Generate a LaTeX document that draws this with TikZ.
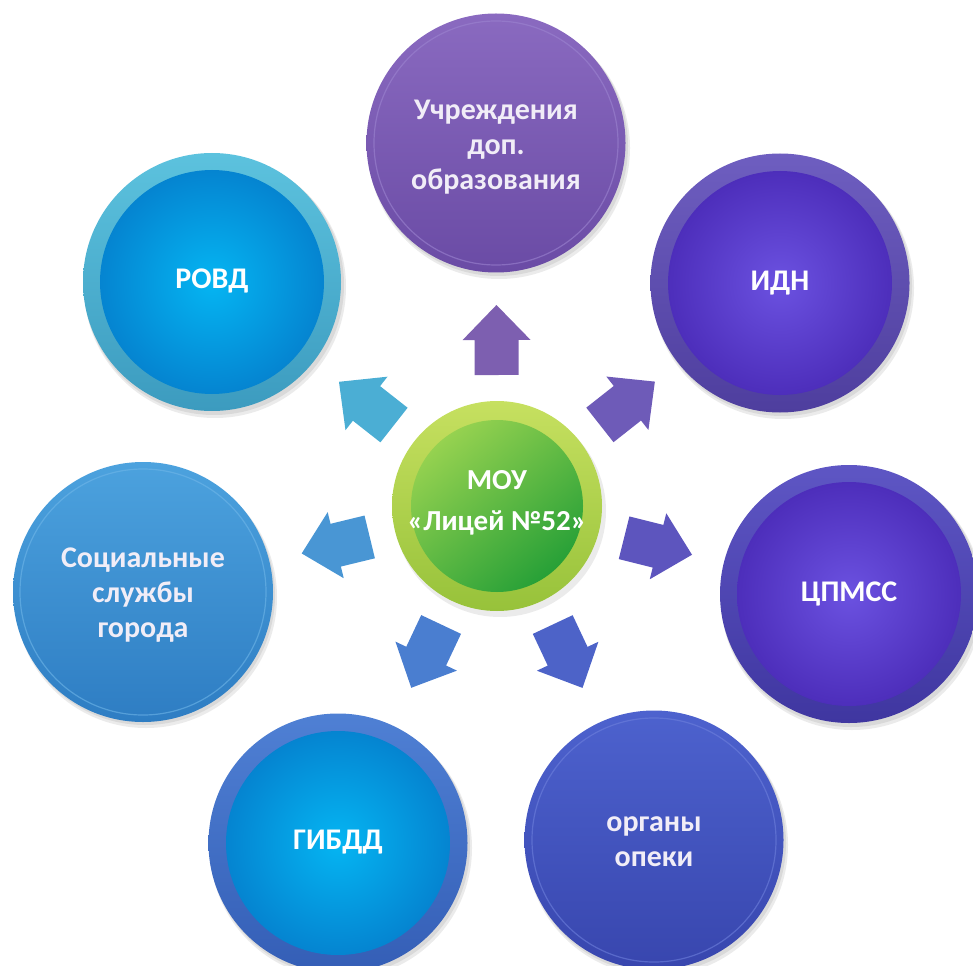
\documentclass[tikz,border=0pt]{standalone}
\usepackage{fontspec}
\setmainfont{Carlito}
\usetikzlibrary{calc}
\definecolor{softtext}{HTML}{F1EDF7}
\definecolor{uchrA}{HTML}{8A6AC0}\definecolor{uchrB}{HTML}{6A4BA5}\definecolor{uchrL}{HTML}{9C84D0}
\definecolor{rovdA}{HTML}{5CC2DE}\definecolor{rovdB}{HTML}{3C9BBF}
\definecolor{idnA}{HTML}{6E5EC0}\definecolor{idnB}{HTML}{4E3E9E}
\definecolor{socA}{HTML}{4CA2DE}\definecolor{socB}{HTML}{2E7DC3}\definecolor{socL}{HTML}{6FB6E8}
\definecolor{cpmA}{HTML}{5E56C4}\definecolor{cpmB}{HTML}{3F36A0}
\definecolor{gibA}{HTML}{4F80D4}\definecolor{gibB}{HTML}{345EB6}
\definecolor{opeA}{HTML}{4D62CE}\definecolor{opeB}{HTML}{3846AE}\definecolor{opeL}{HTML}{6E80DC}
\definecolor{cenA}{HTML}{C6E060}\definecolor{cenB}{HTML}{97C23A}
\definecolor{cenC}{HTML}{96D250}\definecolor{cenD}{HTML}{27A037}
\definecolor{arUp}{HTML}{7D5FB0}\definecolor{arRovd}{HTML}{4BAED4}\definecolor{arIdn}{HTML}{6E5BB8}
\definecolor{arSoc}{HTML}{4996D4}\definecolor{arCpm}{HTML}{5D55BE}\definecolor{arGib}{HTML}{4A7ED0}
\definecolor{arOpe}{HTML}{4D63C8}
\pgfdeclareradialshading{blueball}{\pgfpoint{0bp}{0bp}}{rgb(0bp)=(0.02,0.71,0.95); rgb(34bp)=(0.02,0.45,0.77); rgb(50bp)=(0.02,0.43,0.75)}
\pgfdeclareradialshading{violetball}{\pgfpoint{0bp}{0bp}}{rgb(0bp)=(0.42,0.32,0.88); rgb(34bp)=(0.26,0.13,0.68); rgb(50bp)=(0.25,0.12,0.66)}
\newcommand\blockarr[2]{%
  \fill[#2] let \p1=($(#1)-(cen)$), \n1={atan2(\y1,\x1)} in
    ($(cen)+(\n1:131pt)+(\n1+90:22pt)$) --
    ($(cen)+(\n1:166pt)+(\n1+90:22pt)$) --
    ($(cen)+(\n1:166pt)+(\n1+90:34pt)$) --
    ($(cen)+(\n1:201pt)$) --
    ($(cen)+(\n1:166pt)+(\n1-90:34pt)$) --
    ($(cen)+(\n1:166pt)+(\n1-90:22pt)$) --
    ($(cen)+(\n1:131pt)+(\n1-90:22pt)$) -- cycle;}
\begin{document}
\begin{tikzpicture}[x=1pt,y=-1pt,
  lbl/.style={text=white,font=\bfseries\fontsize{30}{35}\selectfont,align=center,inner sep=0pt},
  soft/.style={lbl,text=softtext},
  disc/.style={circle,inner sep=0pt,minimum size=#1},
  shadowc/.style={fill=black,opacity=0.08}]
\useasboundingbox (0,0) rectangle (973,965);
\clip (0,0) rectangle (973,965);

% soft shadows
\foreach \cx/\cy in {496/143,212/282,780/283,143/592,849/594,338/843,654/840}{
  \fill[shadowc] (\cx+3,\cy+5) circle[radius=131pt];
  \fill[shadowc] (\cx+2,\cy+3) circle[radius=130pt];
}
\fill[shadowc] (500,511) circle[radius=106pt];

% top: institutions of additional education
\node[disc=259pt, top color=uchrA, bottom color=uchrB] (uchr) at (496,143) {};
\draw[uchrL, line width=1.2pt, opacity=0.6] (uchr.center) circle[radius=122pt];
\node[soft] (uchrt) at (496,147) {Учреждения\\доп.\\образования};

% РОВД
\node[disc=258pt, top color=rovdA, bottom color=rovdB] (rovdring) at (212,282) {};
\node[disc=224pt, shading=blueball, lbl] (rovd) at (rovdring.center) {\raisebox{6pt}{РОВД}};

% ИДН
\node[disc=259pt, top color=idnA, bottom color=idnB] (idnring) at (780,283) {};
\node[disc=224pt, shading=violetball, lbl] (idn) at (idnring.center) {\raisebox{4pt}{ИДН}};

% Social services
\node[disc=260pt, top color=socA, bottom color=socB] (soc) at (143,592) {};
\draw[socL, line width=1.2pt, opacity=0.6] (soc.center) circle[radius=123pt];
\node[soft] (soct) at (143,595) {Социальные\\службы\\города};

% ЦПМСС
\node[disc=258pt, top color=cpmA, bottom color=cpmB] (cpmssring) at (849,594) {};
\node[disc=224pt, shading=violetball, lbl] (cpmss) at (cpmssring.center) {\raisebox{3pt}{ЦПМСС}};

% ГИБДД
\node[disc=259pt, top color=gibA, bottom color=gibB] (gibddring) at (338,843) {};
\node[disc=224pt, shading=blueball, lbl] (gibdd) at (gibddring.center) {\raisebox{7pt}{ГИБДД}};

% guardianship bodies
\node[disc=259pt, top color=opeA, bottom color=opeB] (opeki) at (654,840) {};
\draw[opeL, line width=1.2pt, opacity=0.6] (opeki.center) circle[radius=122pt];
\node[soft] (opekit) at (654,842) {органы\\опеки};

% centre
\node[disc=210pt, top color=cenA, bottom color=cenB] (cenring) at (497,506) {};
\node[disc=172pt, top color=cenC, bottom color=cenD, shading angle=40] (cen) at (cenring.center) {};
\node[lbl, font=\bfseries\fontsize{29}{41}\selectfont] (cent) at (497,503) {МОУ\\«Лицей №52»};

% block arrows from the centre
\blockarr{uchr}{arUp}
\blockarr{rovdring}{arRovd}
\blockarr{idnring}{arIdn}
\blockarr{soc}{arSoc}
\blockarr{cpmssring}{arCpm}
\blockarr{gibddring}{arGib}
\blockarr{opeki}{arOpe}
\end{tikzpicture}
\end{document}
